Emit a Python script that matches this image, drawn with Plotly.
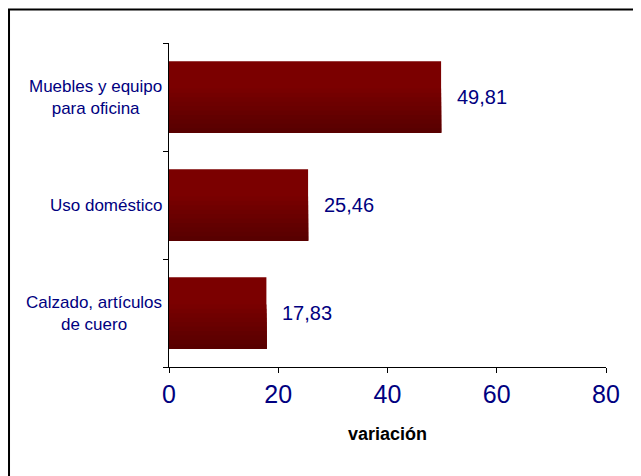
import plotly.graph_objects as go

# ---- data ----
categories = ["Calzado, artículos<br>de cuero", "Uso doméstico", "Muebles y equipo<br>para oficina"]
values = [17.83, 25.46, 49.81]
x_ticks = [0, 20, 40, 60, 80]
x_title = "variación"

NAVY = "#000080"
FONT = "Arial, Liberation Sans, sans-serif"
BAR_W = 0.66

fig = go.Figure()

# base bar
fig.add_trace(go.Bar(
    y=categories, x=values, orientation="h", width=BAR_W,
    marker=dict(color="#7b0000", line=dict(width=0)),
    hoverinfo="skip", showlegend=False,
))
# darker nested bands at the bottom to imitate the vertical gradient
n_bands = 10
top_frac = 0.62
for i in range(1, n_bands + 1):
    h = BAR_W * top_frac * (1 - (i - 1) / n_bands)
    t = i / n_bands
    r = int(round(123 + (88 - 123) * t))
    fig.add_trace(go.Bar(
        y=categories, x=values, orientation="h", width=h, offset=-BAR_W / 2,
        marker=dict(color=f"rgb({r},0,0)", line=dict(width=0)),
        hoverinfo="skip", showlegend=False,
    ))

annotations = []
for c, v in zip(categories, values):
    annotations.append(dict(
        x=v, y=c, xref="x", yref="y", text=f"{v:.2f}".replace(".", ","),
        showarrow=False, xanchor="left", xshift=14,
        font=dict(family=FONT, size=20, color=NAVY),
    ))
    annotations.append(dict(
        x=-0.012, y=c, xref="paper", yref="y", text=c,
        showarrow=False, xanchor="right", align="center",
        font=dict(family=FONT, size=17, color=NAVY),
    ))

fig.update_layout(
    width=641, height=476,
    margin=dict(l=161, r=43, t=35, b=117),
    paper_bgcolor="white", plot_bgcolor="white",
    barmode="overlay", bargap=0.34,
    font=dict(family=FONT, color=NAVY),
    annotations=annotations,
    shapes=[dict(
        type="rect", xref="paper", yref="paper",
        x0=-0.3661, x1=1.2, y0=-0.45, y1=1.1034,
        line=dict(color="black", width=2), fillcolor="rgba(0,0,0,0)", layer="below",
    )],
    xaxis=dict(
        range=[0, 80], tickvals=x_ticks, ticks="outside", ticklen=5, tickcolor="black",
        showline=True, linecolor="black", linewidth=1, showgrid=False, zeroline=False,
        tickfont=dict(family=FONT, size=25, color=NAVY),
        title=dict(text=f"<b>{x_title}</b>", standoff=20,
                   font=dict(family=FONT, size=18, color="black")),
    ),
    yaxis=dict(
        type="category", categoryorder="array", categoryarray=categories,
        tickson="boundaries", ticks="outside", ticklen=5, tickcolor="black",
        showticklabels=False, showline=True, linecolor="black", linewidth=1,
        showgrid=False, zeroline=False,
    ),
)

fig.write_html("out.html")
